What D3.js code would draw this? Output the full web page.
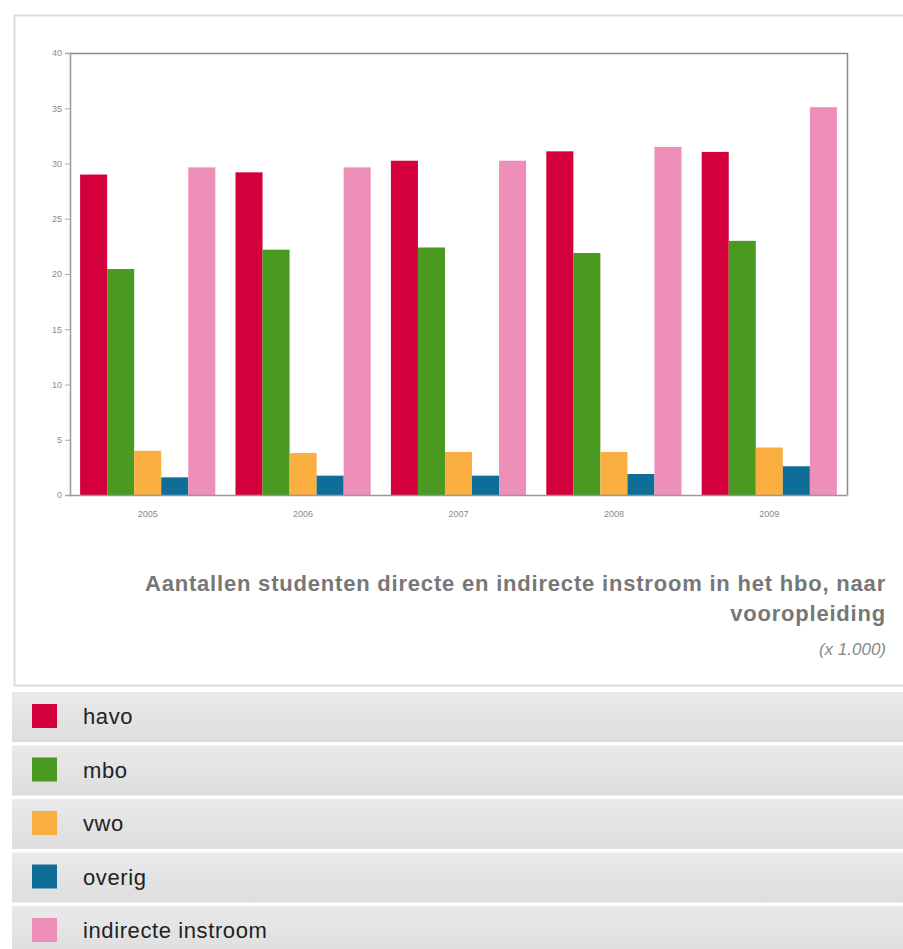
<!DOCTYPE html>
<html><head><meta charset="utf-8">
<script src="https://cdn.jsdelivr.net/npm/d3@7"></script>
<style>
html,body{margin:0;padding:0;background:#fff;}
svg{display:block;font-family:"Liberation Sans",Arial,sans-serif;}
</style></head>
<body>
<script>
const years = ["2005","2006","2007","2008","2009"];
const seriesNames = ["havo","mbo","vwo","overig","indirecte instroom"];
const seriesColors = ["#d4003b","#4a9a22","#fbaf41","#0f6e97","#ee8fb9"];
const havo = [29.0, 29.2, 30.25, 31.1, 31.05];
const mbo = [20.45, 22.2, 22.4, 21.9, 23.0];
const vwo = [4.0, 3.8, 3.9, 3.9, 4.3];
const overig = [1.6, 1.75, 1.75, 1.9, 2.6];
const indirect = [29.65, 29.65, 30.25, 31.5, 35.1];
const yTicks = [0,5,10,15,20,25,30,35,40];
const titleLines = ["Aantallen studenten directe en indirecte instroom in het hbo, naar","vooropleiding"];
const unitLabel = "(x 1.000)";

const seriesValues = [havo, mbo, vwo, overig, indirect];

const W = 903, H = 949;
const svg = d3.select("body").append("svg").attr("width", W).attr("height", H);

// outer panel
svg.append("rect").attr("x",14.5).attr("y",15.5).attr("width",W).attr("height",670)
  .attr("fill","#fff").attr("stroke","#dcdcdc").attr("stroke-width",2);

const m = {left:70, top:53, right:847, bottom:495};
const x0 = d3.scaleBand().domain(years).range([m.left, m.right]).paddingInner(0.13).paddingOuter(0.065);
const x1 = d3.scaleBand().domain(seriesNames).range([0, x0.bandwidth()]);
const y = d3.scaleLinear().domain([0,40]).range([m.bottom, m.top]);

// bars
const g = svg.append("g");
years.forEach((yr, i) => {
  seriesNames.forEach((s, j) => {
    const v = seriesValues[j][i];
    g.append("rect")
      .attr("x", x0(yr) + x1(s))
      .attr("y", y(v))
      .attr("width", x1.bandwidth())
      .attr("height", y(0) - y(v))
      .attr("fill", seriesColors[j]);
  });
});

// frame (top and right)
svg.append("path")
  .attr("d", `M${m.left},${m.top+0.5}H${m.right+0.5}V${m.bottom}`)
  .attr("fill","none").attr("stroke","#8a8a8a").attr("stroke-width",1.5);

// y axis
const yAxis = svg.append("g").attr("transform",`translate(${m.left},0)`)
  .call(d3.axisLeft(y).tickValues(yTicks).tickSize(5).tickPadding(3));
yAxis.select(".domain").attr("stroke","#999").attr("stroke-width",1.5);
yAxis.selectAll(".tick line").attr("stroke","#aaa");
yAxis.selectAll("text").attr("fill","#8a8a8a").style("font-size","9px");

// x axis
const xAxis = svg.append("g").attr("transform",`translate(0,${m.bottom})`)
  .call(d3.axisBottom(x0).tickSize(0).tickPadding(16));
xAxis.select(".domain").attr("stroke","#999").attr("stroke-width",1.5);
xAxis.selectAll("text").attr("fill","#8a8a8a").style("font-size","9px");

// title
const titleG = svg.append("g");
titleLines.forEach((t, i) => {
  titleG.append("text").attr("x",886).attr("y",591 + i*30)
    .attr("text-anchor","end").attr("fill","#777")
    .style("font-size","22px").style("font-weight","bold").style("letter-spacing","0.8px").text(t);
});
titleG.append("text").attr("x",886).attr("y",655).attr("text-anchor","end")
  .attr("fill","#888").style("font-size","17px").style("font-style","italic").text(unitLabel);

// legend
const defs = svg.append("defs");
const grad = defs.append("linearGradient").attr("id","rowg").attr("x1",0).attr("x2",0).attr("y1",0).attr("y2",1);
grad.append("stop").attr("offset","0%").attr("stop-color","#e9e9e9");
grad.append("stop").attr("offset","100%").attr("stop-color","#dedede");

const leg = svg.append("g");
seriesNames.forEach((s, i) => {
  const top = 692 + i*53.5;
  leg.append("rect").attr("x",12).attr("y",top).attr("width",W-12).attr("height",50)
    .attr("fill","url(#rowg)");
  leg.append("rect").attr("x",32).attr("y",top+12).attr("width",25).attr("height",24)
    .attr("fill",seriesColors[i]);
  leg.append("text").attr("x",83).attr("y",top+32).attr("fill","#222")
    .style("font-size","22px").style("letter-spacing","0.6px").text(s);
});
</script>
</body></html>
